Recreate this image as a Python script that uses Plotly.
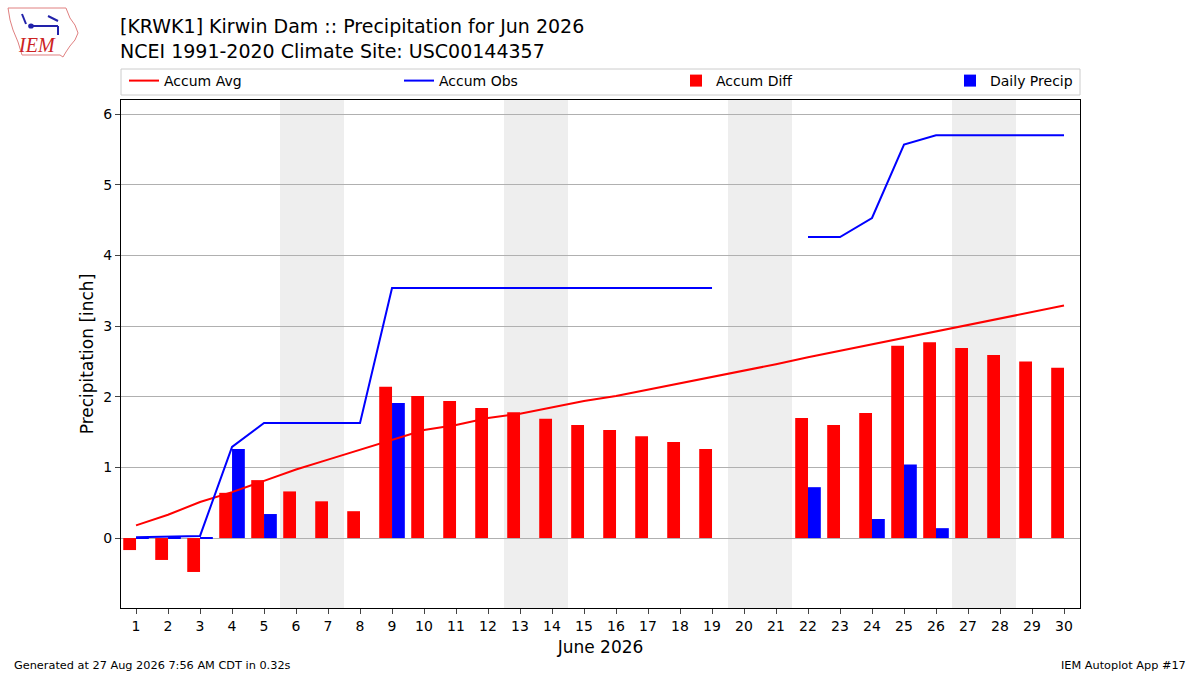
import plotly.graph_objects as go

# June 2026 precipitation at Kirwin Dam (KRWK1)
days = list(range(1, 31))
accum_avg = [0.18, 0.33, 0.51, 0.65, 0.81, 0.97, 1.11, 1.25, 1.40, 1.53,
             1.60, 1.70, 1.76, 1.85, 1.94, 2.01, 2.10, 2.18, 2.28, 2.37,
             2.46, 2.56, 2.65, 2.75, 2.84, 2.93, 3.01, 3.11, 3.20, 3.29]
accum_obs = [0.01, 0.02, 0.03, 1.29, 1.63, 1.63, 1.63, 1.63, 3.54, 3.54,
             3.54, 3.54, 3.54, 3.54, 3.54, 3.54, 3.54, 3.54, 3.54, None,
             None, 4.26, 4.26, 4.53, 5.57, 5.70, 5.70, 5.70, 5.70, 5.70]
accum_diff = [-0.17, -0.31, -0.48, 0.64, 0.82, 0.66, 0.52, 0.38, 2.14, 2.01,
              1.94, 1.84, 1.78, 1.69, 1.60, 1.53, 1.44, 1.36, 1.26, None,
              None, 1.70, 1.60, 1.77, 2.72, 2.77, 2.69, 2.59, 2.50, 2.41]
daily_precip = [0.01, 0.01, 0.01, 1.26, 0.34, 0, 0, 0, 1.91, 0,
                0, 0, 0, 0, 0, 0, 0, 0, 0, None,
                None, 0.72, 0, 0.27, 1.04, 0.14, 0, 0, 0, 0]
weekends = [6, 13, 20, 27]

# plot area in window pixels, used to place the decorations
L, R, T, B = 121, 1080, 100, 608


def px(x, y):
    return (x - L) / (R - L), 1 + (T - y) / (B - T)


fig = go.Figure()

# weekend shading
for d in weekends:
    fig.add_vrect(x0=d - 0.5, x1=d + 1.5, fillcolor="#eeeeee", line_width=0, layer="below")

fig.add_trace(go.Scatter(x=days, y=accum_avg, mode="lines", name="Accum Avg",
                         line=dict(color="red", width=2), legend="legend"))
fig.add_trace(go.Scatter(x=days, y=accum_obs, mode="lines", name="Accum Obs",
                         line=dict(color="blue", width=2), connectgaps=False, legend="legend2"))
fig.add_trace(go.Bar(x=days, y=accum_diff, name="Accum Diff", marker_color="red",
                     marker_line_width=0, width=0.4, offset=-0.4, legend="legend3"))
fig.add_trace(go.Bar(x=days, y=daily_precip, name="Daily Precip", marker_color="blue",
                     marker_line_width=0, width=0.4, offset=0, legend="legend4"))

# one legend per entry so the spacing follows the reference
leg_y = px(0, 81)[1]
legends = {}
for name, xpix in zip(["legend", "legend2", "legend3", "legend4"], [124, 399, 676, 950]):
    legends[name] = dict(orientation="h", x=px(xpix, 0)[0], xanchor="left", y=leg_y,
                         yanchor="middle", bgcolor="rgba(0,0,0,0)", borderwidth=0,
                         font=dict(size=14))

fig.update_layout(
    width=1200, height=675,
    barmode="overlay",
    showlegend=True,
    paper_bgcolor="white", plot_bgcolor="white",
    font=dict(family="DejaVu Sans", size=14, color="black"),
    margin=dict(l=L, r=1200 - R, t=T, b=675 - B),
    **legends,
)

# legend frame
x0, y0 = px(L, 69)
x1, y1 = px(R, 95)
fig.add_shape(type="rect", xref="paper", yref="paper", x0=x0, y0=y0, x1=x1, y1=y1,
              line=dict(color="#cccccc", width=1), fillcolor="white", layer="below")

fig.update_xaxes(range=[0.53, 30.5], tickmode="array", tickvals=days,
                 ticks="outside", ticklen=5, showgrid=False, zeroline=False,
                 showline=True, linecolor="black", linewidth=1, mirror=True,
                 title=dict(text="June 2026", font=dict(size=17), standoff=8))
fig.update_yaxes(range=[-0.99, 6.2], tickvals=[0, 1, 2, 3, 4, 5, 6],
                 ticks="outside", ticklen=5, showgrid=True, gridcolor="#b0b0b0",
                 zeroline=False, showline=True, linecolor="black", linewidth=1,
                 mirror=True,
                 title=dict(text="Precipitation [inch]", font=dict(size=17), standoff=5))

# title
tx, ty = px(118, 13)
fig.add_annotation(xref="paper", yref="paper", x=tx, y=ty, xanchor="left", yanchor="top",
                   text="[KRWK1] Kirwin Dam :: Precipitation for Jun 2026<br>NCEI 1991-2020 Climate Site: USC00144357",
                   showarrow=False, align="left", font=dict(size=19))

# rough IEM logo: state outline, station glyph and text
outline = [(8, 8), (66, 8), (70, 18), (75, 25), (78, 33), (75, 40), (70, 46), (66, 52),
           (63, 57), (60, 55), (22, 55), (18, 42), (13, 30), (10, 20), (8, 8)]
path = "M " + " L ".join("%.4f,%.4f" % px(a, b) for a, b in outline) + " Z"
fig.add_shape(type="path", xref="paper", yref="paper", path=path,
              line=dict(color="#e08080", width=1))
for (a, b), (c, d) in [((29, 26), (58, 26)), ((58, 26), (58, 35)), ((22, 14), (26, 24)),
                       ((48, 16), (58, 21))]:
    xa, ya = px(a, b)
    xc, yc = px(c, d)
    fig.add_shape(type="line", xref="paper", yref="paper", x0=xa, y0=ya, x1=xc, y1=yc,
                  line=dict(color="#2222aa", width=2))
cx, cy = px(31, 26)
fig.add_shape(type="circle", xref="paper", yref="paper", x0=cx - 0.003, y0=cy - 0.005,
              x1=cx + 0.003, y1=cy + 0.005, fillcolor="#2222aa", line_width=0)
ix, iy = px(37, 45)
fig.add_annotation(xref="paper", yref="paper", x=ix, y=iy, xanchor="center", yanchor="middle",
                   text="<i>IEM</i>", showarrow=False,
                   font=dict(family="Liberation Serif", size=20, color="#cc2222"))

# footer
fx, fy = px(12, 665)
fig.add_annotation(xref="paper", yref="paper", x=fx, y=fy, xanchor="left", yanchor="middle",
                   text="Generated at 27 Aug 2026 7:56 AM CDT in 0.32s", showarrow=False,
                   font=dict(size=11.3))
gx, gy = px(1188, 665)
fig.add_annotation(xref="paper", yref="paper", x=gx, y=gy, xanchor="right", yanchor="middle",
                   text="IEM Autoplot App #17", showarrow=False, font=dict(size=11.3))

# drop the page margin so the figure sits at the window's top-left corner
fig.write_html("out.html", config={"displayModeBar": False},
               post_script="document.body.style.margin='0';")
